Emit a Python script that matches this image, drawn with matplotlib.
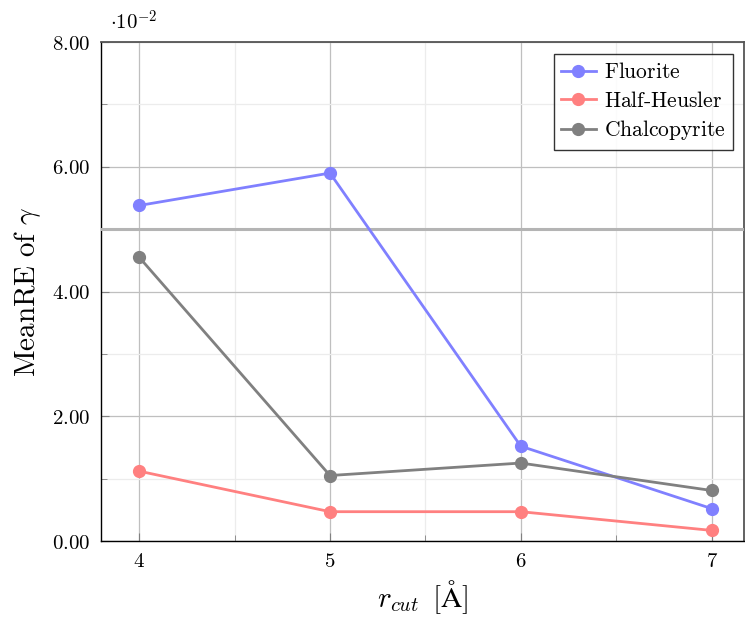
import matplotlib
matplotlib.use("Agg")
import matplotlib.pyplot as plt
from matplotlib.ticker import FixedLocator

plt.rcParams["mathtext.fontset"] = "cm"
plt.rcParams["font.family"] = "serif"
plt.rcParams["font.serif"] = ["DejaVu Serif"]

# Mean relative error of gamma (in units of 1e-2) vs cutoff radius
r_cut = [4, 5, 6, 7]
fluorite = [5.38, 5.90, 1.52, 0.52]
half_heusler = [1.12, 0.47, 0.47, 0.17]
chalcopyrite = [4.55, 1.05, 1.25, 0.81]
threshold = 5.0

y_ticks = [0, 2, 4, 6, 8]

fig = plt.figure(figsize=(7.45, 6.19), dpi=100)
ax = fig.add_axes([0.1356, 0.126, 0.8631, 0.806])

ax.plot(r_cut, fluorite, color="#8080ff", lw=2.0, marker="o", ms=8.5,
        label=r"$\mathrm{Fluorite}$", zorder=4)
ax.plot(r_cut, half_heusler, color="#ff8080", lw=2.0, marker="o", ms=8.5,
        label=r"$\mathrm{Half\text{-}Heusler}$", zorder=4)
ax.plot(r_cut, chalcopyrite, color="#808080", lw=2.0, marker="o", ms=8.5,
        label=r"$\mathrm{Chalcopyrite}$", zorder=4)
ax.axhline(threshold, color="#b4b4b4", lw=2.2, zorder=3)

ax.set_xlim(3.8, 7.17)
ax.set_ylim(0, 8)
ax.set_xticks(r_cut)
ax.set_xticklabels([rf"${v}$" for v in r_cut], fontsize=15)
ax.xaxis.set_minor_locator(FixedLocator([4.5, 5.5, 6.5]))
ax.set_yticks(y_ticks)
ax.set_yticklabels([rf"${v:.2f}$" for v in y_ticks], fontsize=15)
ax.yaxis.set_minor_locator(FixedLocator([1, 3, 5, 7]))

ax.tick_params(which="both", direction="in", color="#808080")
ax.tick_params(which="major", length=6, width=0.8, pad=8)
ax.tick_params(which="minor", length=4, width=0.6)

ax.grid(which="major", color="#bfbfbf", lw=0.9, zorder=0)
ax.grid(which="minor", color="#ececec", lw=0.9, zorder=0)
ax.set_axisbelow(True)
for side in ("top", "right"):
    ax.spines[side].set_color("#555555")
    ax.spines[side].set_linewidth(1.3)
for side in ("left", "bottom"):
    ax.spines[side].set_color("black")
    ax.spines[side].set_linewidth(1.0)

ax.set_xlabel(r"$r_{cut}\ \,[\mathrm{\AA}]$", fontsize=21, labelpad=5)
ax.set_ylabel(r"$\mathrm{MeanRE\ of\ }\gamma$", fontsize=21, labelpad=6)

fig.text(0.148, 0.965, r"$\cdot 10^{-2}$", fontsize=15, ha="left", va="center")

leg = ax.legend(loc="upper right", bbox_to_anchor=(0.99, 0.985), fontsize=15.5,
                frameon=True, fancybox=False, edgecolor="black",
                handlelength=1.6, borderpad=0.35, labelspacing=0.3,
                handletextpad=0.4, borderaxespad=0.2)
leg.get_frame().set_linewidth(1.0)

fig.savefig("out.png", dpi=100)
